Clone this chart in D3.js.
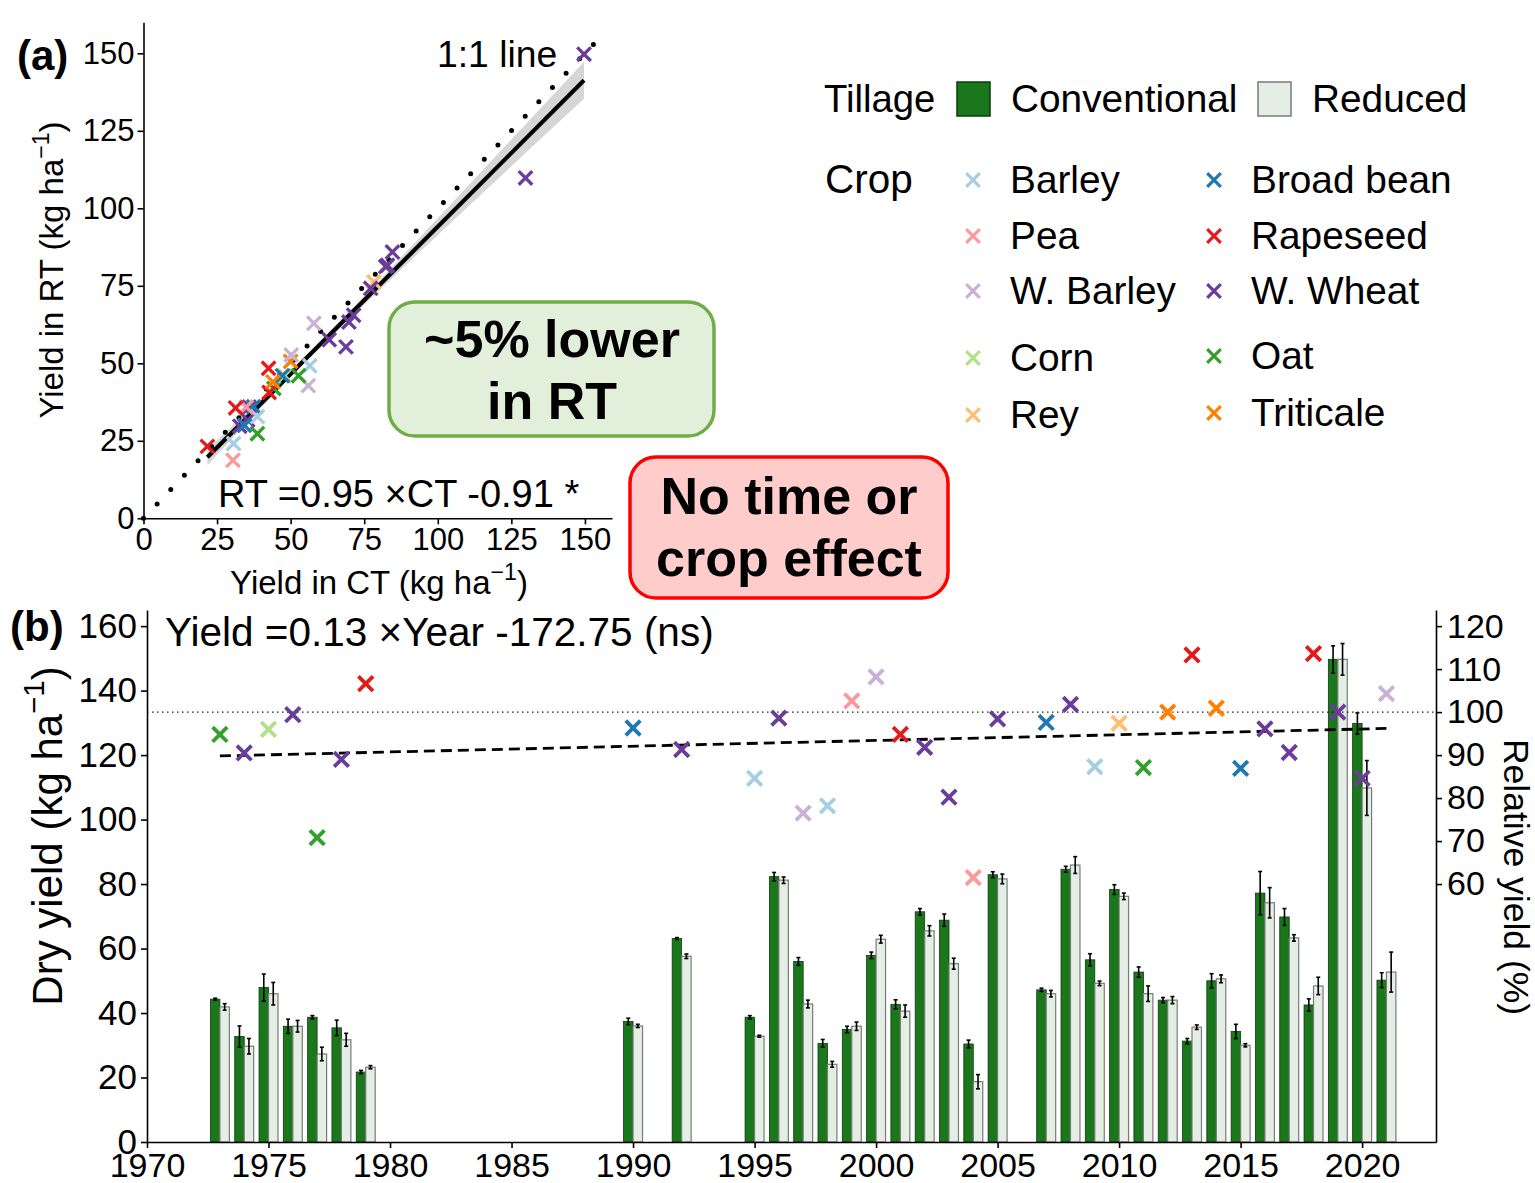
<!DOCTYPE html>
<html><head><meta charset="utf-8">
<script src="https://cdn.jsdelivr.net/npm/d3@7"></script>
<style>body{margin:0;background:#fff}svg{display:block}text{font-family:"Liberation Sans",Arial,sans-serif;fill:#000}</style>
</head><body><svg id="c" width="1535" height="1183"></svg>
<script>
// ---------------- DATA ----------------
const years = [1973,1974,1975,1976,1977,1978,1979,1990,1992,1995,1996,1997,1998,1999,2000,2001,2002,2003,2004,2005,2007,2008,2009,2010,2011,2012,2013,2014,2015,2016,2017,2018,2019,2020,2021];
const crops = ["Oat","W. Wheat","Corn","W. Wheat","Oat","W. Wheat","Rapeseed","Broad bean","W. Wheat","Barley","W. Wheat","W. Barley","Barley","Pea","W. Barley","Rapeseed","W. Wheat","W. Wheat","Pea","W. Wheat","Broad bean","W. Wheat","Barley","Rey","Oat","Triticale","Rapeseed","Triticale","Broad bean","W. Wheat","W. Wheat","Rapeseed","W. Wheat","W. Wheat","W. Barley"];
const ctYield = [44.3,32.7,47.9,35.9,38.7,35.4,21.7,37.4,63.1,38.7,82.3,56.0,30.6,34.9,57.9,42.7,71.4,68.8,30.4,82.9,47.2,84.6,56.5,78.3,52.7,44.0,31.3,50.0,34.3,77.2,69.8,42.5,149.7,129.8,50.2];
const ctErr   = [0.3,3.3,4.2,2.2,0.5,2.4,0.5,1.0,0.3,0.5,1.3,1.2,1.2,1.0,1.0,1.4,1.0,1.9,1.2,0.9,0.5,0.9,1.9,1.5,1.6,0.8,0.8,2.2,2.2,6.7,2.6,1.9,4.2,3.3,2.3];
const rtYield = [41.9,29.7,46.0,35.9,27.3,31.7,23.2,36.0,57.6,32.8,81.2,42.8,24.1,35.9,62.9,40.6,65.5,55.3,18.7,81.6,46.0,85.9,49.2,76.2,46.0,44.0,35.6,50.6,30.0,74.2,63.3,48.4,149.7,109.8,52.7];
const rtErr   = [1.0,2.4,3.5,1.8,2.1,2.0,0.5,0.5,0.7,0.3,1.0,1.2,0.9,1.3,1.2,1.9,1.6,1.7,2.2,1.5,1.0,2.6,0.7,1.0,2.4,1.1,0.7,1.2,0.5,4.7,1.0,2.7,4.9,8.5,6.2];
const relYield = [94.8,90.5,96.0,99.4,70.8,89.0,106.6,96.3,91.3,84.6,98.6,76.5,78.2,102.6,108.2,94.8,91.8,80.2,61.5,98.4,97.6,101.8,87.3,97.4,87.1,100.0,113.3,100.9,86.9,96.1,90.6,113.6,100.0,84.6,104.3];
const trendYears = [1973, 2021];
const trendRel = [89.8, 96.2];
const cropNames = ["Barley","Pea","W. Barley","Corn","Rey","Broad bean","Rapeseed","W. Wheat","Oat","Triticale"];
const cropColors = ["#a6cee3","#fb9a99","#cab2d6","#b2df8a","#fdbf6f","#1f78b4","#e31a1c","#6a3d9a","#33a02c","#ff7f00"];
const tillageNames = ["Conventional","Reduced"];
// panel (a) regression & band
const fitX = [21.7, 149.7];
const fitY = [19.7, 141.3];
const bandX = [21.7, 40, 55, 75, 100, 125, 149.7];
const bandLo = [17.1, 35.7, 50.3, 68.9, 91.4, 113.6, 135.3];
const bandHi = [22.3, 38.5, 52.3, 71.7, 96.8, 122.2, 147.3];
const oneToOne = [0, 157];
const ticksA = [0,25,50,75,100,125,150];
const ticksBy = [0,20,40,60,80,100,120,140,160];
const ticksBx = [1970,1975,1980,1985,1990,1995,2000,2005,2010,2015,2020];
const ticksRel = [60,70,80,90,100,110,120];

// ---------------- SETUP ----------------
const svg = d3.select("#c");
svg.append("rect").attr("width",1535).attr("height",1183).attr("fill","#fff");
const FONT = '"Liberation Sans",Arial,sans-serif';
const color = d3.scaleOrdinal(cropNames, cropColors);
const GREEN = "#1b771b", GREEN_STROKE = "#0c3d0c", LIGHT = "#e4eee4", LIGHT_STROKE = "#7a7a7a";
const cross = s => `M${-s},${-s}L${s},${s}M${-s},${s}L${s},${-s}`;

function styleAxis(g, fs){
  g.selectAll("path.domain").attr("stroke","#000").attr("stroke-width",1.6);
  g.selectAll(".tick line").attr("stroke","#000").attr("stroke-width",1.6);
  g.selectAll(".tick text").attr("font-size",fs).attr("fill","#000").attr("font-family",FONT);
}
function titleWithSup(g, main, fs){
  g.append("tspan").text(main);
  g.append("tspan").text("−1").attr("font-size",fs*0.7).attr("dy",-fs*0.42);
  g.append("tspan").text(")").attr("font-size",fs).attr("dy",fs*0.42);
}

// ---------------- PANEL (a) ----------------
const xA = d3.scaleLinear([0,159.2],[143.5,612]);
const yA = d3.scaleLinear([0,160],[518.3,22.3]);
const gA = svg.append("g");

const band = bandX.map((x,i)=>({x, lo:bandLo[i], hi:bandHi[i]}));
gA.append("path").datum(band)
  .attr("d", d3.area().x(d=>xA(d.x)).y0(d=>yA(d.lo)).y1(d=>yA(d.hi)).curve(d3.curveMonotoneX))
  .attr("fill","#d6d6d6");
gA.append("line").attr("x1",xA(oneToOne[0])).attr("y1",yA(oneToOne[0])).attr("x2",xA(oneToOne[1])).attr("y2",yA(oneToOne[1]))
  .attr("stroke","#000").attr("stroke-width",5).attr("stroke-linecap","round").attr("stroke-dasharray","0 19.8");
gA.append("line").attr("x1",xA(fitX[0])).attr("y1",yA(fitY[0])).attr("x2",xA(fitX[1])).attr("y2",yA(fitY[1]))
  .attr("stroke","#000").attr("stroke-width",4.2);
gA.selectAll("path.pt").data(years.map((y,i)=>i)).join("path")
  .attr("transform",i=>`translate(${xA(ctYield[i])},${yA(rtYield[i])})`)
  .attr("d",cross(6.8)).attr("stroke",i=>color(crops[i])).attr("stroke-width",3.3).attr("fill","none");

const axAx = gA.append("g").attr("transform",`translate(0,${yA(0)})`)
  .call(d3.axisBottom(xA).tickValues(ticksA).tickSize(6).tickSizeOuter(0).tickPadding(4));
styleAxis(axAx,31);
const axAy = gA.append("g").attr("transform",`translate(${xA(0)},0)`)
  .call(d3.axisLeft(yA).tickValues(ticksA).tickSize(6).tickSizeOuter(0).tickPadding(3));
styleAxis(axAy,31);

gA.append("text").attr("x",437).attr("y",67).attr("font-size",37.3).text("1:1 line");
gA.append("text").attr("x",218).attr("y",507).attr("font-size",38).text("RT =0.95 ×CT -0.91 *");
titleWithSup(gA.append("text").attr("x",379).attr("y",594).attr("text-anchor","middle").attr("font-size",33), "Yield in CT (kg ha", 33);
titleWithSup(gA.append("text").attr("transform","translate(63,270) rotate(-90)").attr("text-anchor","middle").attr("font-size",33), "Yield in RT (kg ha", 33);
svg.append("text").attr("x",17).attr("y",70).attr("font-size",42).attr("font-weight","bold").text("(a)");

// ---------------- PANEL (b) ----------------
const xB = d3.scaleLinear([1970,2023.04],[147,1436]);
const yB = d3.scaleLinear([0,165],[1142,610]);
const yR = d3.scaleLinear([0,123.75],[1142,610]);
const gB = svg.append("g");
const bw = xB(1970.39) - xB(1970);
const idx = years.map((y,i)=>i);

gB.selectAll("rect.ct").data(idx).join("rect")
  .attr("x",i=>xB(years[i])-bw).attr("width",bw)
  .attr("y",i=>yB(ctYield[i])).attr("height",i=>yB(0)-yB(ctYield[i]))
  .attr("fill",GREEN).attr("stroke",GREEN_STROKE).attr("stroke-width",0.8);
gB.selectAll("rect.rt").data(idx).join("rect")
  .attr("x",i=>xB(years[i])).attr("width",bw)
  .attr("y",i=>yB(rtYield[i])).attr("height",i=>yB(0)-yB(rtYield[i]))
  .attr("fill",LIGHT).attr("stroke",LIGHT_STROKE).attr("stroke-width",1.2);

function errBars(vals, errs, off){
  const g = gB.append("g").attr("stroke","#000").attr("stroke-width",1.6);
  idx.forEach(i=>{
    const cx = xB(years[i]) + off*bw;
    const y1 = yB(vals[i]-errs[i]), y2 = yB(vals[i]+errs[i]);
    g.append("line").attr("x1",cx).attr("x2",cx).attr("y1",y1).attr("y2",y2);
    g.append("line").attr("x1",cx-2).attr("x2",cx+2).attr("y1",y1).attr("y2",y1);
    g.append("line").attr("x1",cx-2).attr("x2",cx+2).attr("y1",y2).attr("y2",y2);
  });
}
errBars(ctYield, ctErr, -0.5);
errBars(rtYield, rtErr, 0.5);

gB.append("line").attr("x1",xB.range()[0]).attr("x2",xB.range()[1]).attr("y1",yR(100)).attr("y2",yR(100))
  .attr("stroke","#222").attr("stroke-width",1.4).attr("stroke-dasharray","1.5 3.5");
gB.append("line").attr("x1",xB(trendYears[0])).attr("y1",yR(trendRel[0])).attr("x2",xB(trendYears[1])).attr("y2",yR(trendRel[1]))
  .attr("stroke","#000").attr("stroke-width",2.8).attr("stroke-dasharray","11 6");
gB.selectAll("path.rel").data(idx).join("path")
  .attr("transform",i=>`translate(${xB(years[i])},${yR(relYield[i])})`)
  .attr("d",cross(7.3)).attr("stroke",i=>color(crops[i])).attr("stroke-width",3.8).attr("fill","none");

const axBx = gB.append("g").attr("transform",`translate(0,1142)`)
  .call(d3.axisBottom(xB).tickValues(ticksBx).tickFormat(d3.format("d")).tickSize(6).tickSizeOuter(0).tickPadding(5));
styleAxis(axBx,34);
const axBy = gB.append("g").attr("transform",`translate(147,0)`)
  .call(d3.axisLeft(yB).tickValues(ticksBy).tickSize(6).tickSizeOuter(0).tickPadding(4));
styleAxis(axBy,35);
const axBr = gB.append("g").attr("transform",`translate(1436,0)`)
  .call(d3.axisRight(yR).tickValues(ticksRel).tickSize(6).tickSizeOuter(0).tickPadding(5));
styleAxis(axBr,34);

gB.append("text").attr("x",165).attr("y",646).attr("font-size",40.5).text("Yield =0.13 ×Year -172.75 (ns)");
titleWithSup(gB.append("text").attr("transform","translate(62,836) rotate(-90)").attr("text-anchor","middle").attr("font-size",42), "Dry yield (kg ha", 42);
gB.append("text").attr("transform","translate(1504,877) rotate(90)").attr("text-anchor","middle").attr("font-size",35.5).text("Relative yield (%)");
svg.append("text").attr("x",10).attr("y",641).attr("font-size",42).attr("font-weight","bold").text("(b)");

// ---------------- LEGEND ----------------
const gL = svg.append("g");
gL.append("text").attr("x",824).attr("y",112).attr("font-size",38.3).text("Tillage");
const tillKeys = [{x:957, fill:GREEN, stroke:GREEN_STROKE},{x:1258, fill:LIGHT, stroke:LIGHT_STROKE}];
tillageNames.forEach((n,i)=>{
  gL.append("rect").attr("x",tillKeys[i].x).attr("y",82).attr("width",33).attr("height",34)
    .attr("fill",tillKeys[i].fill).attr("stroke",tillKeys[i].stroke).attr("stroke-width",1.5);
  gL.append("text").attr("x",tillKeys[i].x+54).attr("y",112).attr("font-size",38.8).text(n);
});
gL.append("text").attr("x",825).attr("y",193).attr("font-size",40.5).text("Crop");
const rowY = [[180,236,291,358,415],[180,236,291,356,413]];
const colX = [973, 1214];
cropNames.forEach((n,i)=>{
  const c = Math.floor(i/5), r = i%5;
  gL.append("path").attr("transform",`translate(${colX[c]},${rowY[c][r]})`).attr("d",cross(6.8))
    .attr("stroke",color(n)).attr("stroke-width",3.2).attr("fill","none");
  gL.append("text").attr("x",colX[c]+37).attr("y",rowY[c][r]+13).attr("font-size",38.8).text(n);
});

// ---------------- ANNOTATION BOXES ----------------
const gN = svg.append("g");
gN.append("rect").attr("x",389).attr("y",302).attr("width",325).attr("height",134).attr("rx",26)
  .attr("fill","#e2efda").attr("stroke","#70ad47").attr("stroke-width",3.5);
gN.append("text").attr("x",552).attr("y",357).attr("text-anchor","middle").attr("font-size",52).attr("font-weight","bold").text("~5% lower");
gN.append("text").attr("x",552).attr("y",419).attr("text-anchor","middle").attr("font-size",52).attr("font-weight","bold").text("in RT");
gN.append("rect").attr("x",630).attr("y",457).attr("width",318).attr("height",141).attr("rx",26)
  .attr("fill","#ffcccc").attr("stroke","#ff0000").attr("stroke-width",3.5);
gN.append("text").attr("x",789).attr("y",514).attr("text-anchor","middle").attr("font-size",52).attr("font-weight","bold").text("No time or");
gN.append("text").attr("x",789).attr("y",576).attr("text-anchor","middle").attr("font-size",52).attr("font-weight","bold").text("crop effect");
</script></body></html>
